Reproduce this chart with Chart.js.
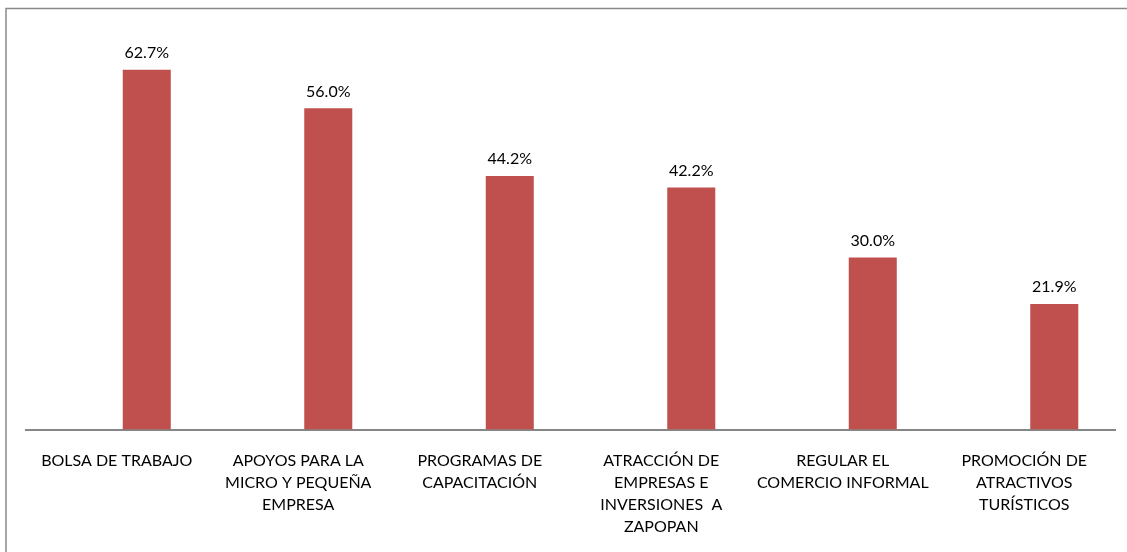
<!DOCTYPE html>
<html>
<head>
<meta charset="utf-8">
<script src="https://cdn.jsdelivr.net/npm/chart.js@4.4.1/dist/chart.umd.min.js"></script>
<style>
html,body{margin:0;padding:0;background:#fff;}
#wrap{position:relative;width:1127px;height:552px;}
</style>
</head>
<body>
<div id="wrap"><canvas id="c" width="1127" height="552"></canvas></div>
<script>
const categories = [
  ["BOLSA DE TRABAJO"],
  ["APOYOS PARA LA", "MICRO Y PEQUEÑA", "EMPRESA"],
  ["PROGRAMAS DE", "CAPACITACIÓN"],
  ["ATRACCIÓN DE", "EMPRESAS E", "INVERSIONES  A", "ZAPOPAN"],
  ["REGULAR EL", "COMERCIO INFORMAL"],
  ["PROMOCIÓN DE", "ATRACTIVOS", "TURÍSTICOS"]
];
const hiddenSeries = [null, null, null, null, null, null];
const values = [62.7, 56.0, 44.2, 42.2, 30.0, 21.9];

const FONT = "Lato, 'Open Sans', sans-serif";

const frame = {
  id: 'frame',
  beforeDraw(chart) {
    const ctx = chart.ctx;
    ctx.save();
    ctx.fillStyle = '#fff';
    ctx.fillRect(0, 0, chart.width, chart.height);
    ctx.strokeStyle = '#8a8a8a';
    ctx.lineWidth = 1.5;
    ctx.strokeRect(6, 8.5, chart.width + 10, chart.height + 10);
    ctx.restore();
  }
};

const valueLabels = {
  id: 'valueLabels',
  afterDatasetsDraw(chart) {
    const ctx = chart.ctx;
    const meta = chart.getDatasetMeta(1);
    ctx.save();
    ctx.font = '16px ' + FONT;
    ctx.fillStyle = '#000';
    ctx.textAlign = 'center';
    ctx.textBaseline = 'alphabetic';
    meta.data.forEach((bar, i) => {
      const v = chart.data.datasets[1].data[i];
      ctx.fillText(v.toFixed(1) + '%', bar.x, bar.y - 11.5);
    });
    ctx.restore();
  }
};

new Chart(document.getElementById('c'), {
  type: 'bar',
  data: {
    labels: categories,
    datasets: [
      { data: hiddenSeries, backgroundColor: '#4F81BD' },
      { data: values, backgroundColor: '#C0504D', borderWidth: 0 }
    ]
  },
  options: {
    responsive: false,
    animation: false,
    devicePixelRatio: 1,
    categoryPercentage: 0.6615,
    barPercentage: 0.8,
    layout: { padding: { left: 26, right: 12, top: 28, bottom: 0 } },
    plugins: { legend: { display: false }, tooltip: { enabled: false } },
    scales: {
      y: { display: false, min: 0, max: 70 },
      x: {
        grid: { display: false, drawTicks: false },
        border: { display: true, color: '#868686', width: 2 },
        ticks: {
          color: '#000',
          font: { family: FONT, size: 16, lineHeight: 1.375 },
          padding: 20,
          maxRotation: 0,
          autoSkip: false
        },
        afterFit(scale) { scale.height = 122.5; }
      }
    }
  },
  plugins: [frame, valueLabels]
});
</script>
</body>
</html>
